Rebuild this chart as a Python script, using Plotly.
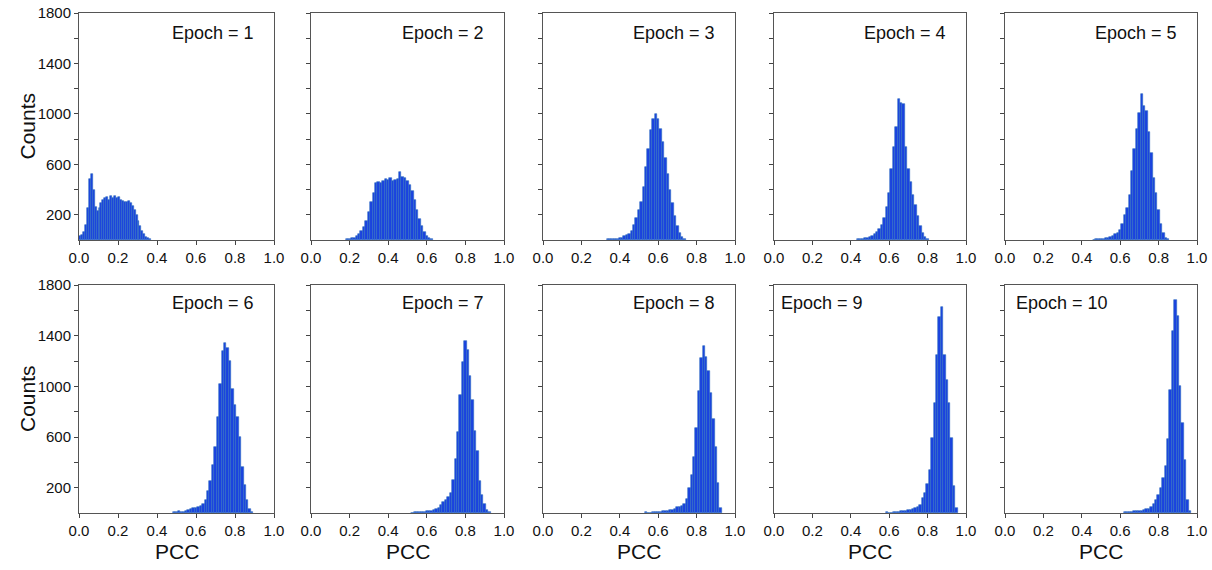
import plotly.graph_objects as go

# ---------------- data ----------------
epochs = [1, 2, 3, 4, 5, 6, 7, 8, 9, 10]
bin_width = [0.01, 0.0125, 0.0125, 0.0125, 0.0125, 0.0125, 0.0125, 0.0125, 0.0125, 0.0125]
first_center = [0.005, 0.1875, 0.3375, 0.4375, 0.4625, 0.4875, 0.525, 0.5375, 0.5875, 0.625]

counts_e1 = [30, 40, 60, 120, 250, 480, 520, 400, 260, 230, 250, 290, 320, 330, 340, 320, 345,
             335, 350, 330, 340, 320, 310, 305, 300, 310, 295, 270, 240, 200, 150, 110, 70, 45,
             25, 12, 6]
counts_e2 = [5, 8, 12, 18, 30, 45, 70, 105, 150, 220, 300, 370, 450, 460, 455, 470, 480, 475,
             490, 470, 475, 480, 540, 500, 490, 470, 440, 390, 320, 240, 170, 110, 60, 30, 12, 5]
counts_e3 = [5, 6, 6, 8, 10, 12, 18, 28, 38, 50, 75, 120, 175, 240, 300, 420, 580, 720, 870,
             960, 1000, 960, 880, 780, 650, 520, 400, 290, 190, 110, 55, 20, 6]
counts_e4 = [6, 8, 10, 12, 15, 22, 35, 45, 65, 90, 120, 175, 260, 370, 560, 740, 900, 1115,
             1085, 1080, 740, 560, 460, 360, 280, 190, 110, 55, 20, 8]
counts_e5 = [4, 5, 5, 6, 8, 12, 18, 25, 35, 45, 55, 80, 130, 200, 250, 360, 550, 720, 880,
             1010, 1160, 1060, 1020, 860, 690, 490, 370, 235, 130, 55, 15, 5]
counts_e6 = [6, 8, 12, 8, 10, 15, 20, 30, 38, 42, 45, 55, 75, 105, 170, 250, 380, 520, 760,
             1020, 1280, 1340, 1300, 1200, 980, 850, 760, 600, 360, 220, 100, 30, 8]
counts_e7 = [3, 5, 5, 7, 8, 10, 12, 14, 18, 22, 28, 40, 60, 85, 105, 130, 160, 260, 430, 640,
             930, 1190, 1360, 1285, 1080, 895, 645, 490, 250, 145, 75, 20, 6]
counts_e8 = [8, 3, 3, 5, 8, 8, 10, 13, 15, 18, 20, 24, 28, 45, 47, 55, 70, 110, 200, 300, 445,
             670, 960, 1220, 1320, 1230, 1120, 945, 740, 525, 240, 40]
counts_e9 = [6, 2, 3, 5, 6, 8, 12, 14, 14, 20, 26, 34, 40, 50, 60, 120, 160, 230, 340, 590,
             870, 1250, 1545, 1625, 1250, 1050, 870, 590, 215, 40]
counts_e10 = [5, 8, 8, 10, 13, 15, 16, 18, 21, 28, 32, 45, 70, 100, 140, 200, 276, 368, 584,
              973, 1433, 1678, 1552, 1000, 710, 420, 105, 13]
all_counts = [counts_e1, counts_e2, counts_e3, counts_e4, counts_e5,
              counts_e6, counts_e7, counts_e8, counts_e9, counts_e10]

x_tick_vals = [0.0, 0.2, 0.4, 0.6, 0.8, 1.0]
x_tick_text = ["0.0", "0.2", "0.4", "0.6", "0.8", "1.0"]
y_tick_vals = [200, 400, 600, 800, 1000, 1200, 1400, 1600, 1800]
y_tick_text = ["200", "", "600", "", "1000", "", "1400", "", "1800"]

# ---------------- layout geometry (pixels) ----------------
W, H = 1212, 570
col_px = [(79, 274), (311, 504), (543, 735), (774, 966), (1005, 1197)]
row_px = [(13, 240), (285, 513)]

FONT = "Liberation Sans, Arial, sans-serif"
fig = go.Figure()
annotations = []

for i, ep in enumerate(epochs):
    r, c = divmod(i, 5)
    n = i + 1
    xa = "x" if n == 1 else f"x{n}"
    ya = "y" if n == 1 else f"y{n}"
    w = bin_width[i]
    centers = [first_center[i] + k * w for k in range(len(all_counts[i]))]
    fig.add_trace(go.Bar(
        x=centers, y=all_counts[i], width=w,
        marker=dict(color="#1a42e0", line=dict(color="#2f6fc0", width=0.6)),
        xaxis=xa, yaxis=ya, showlegend=False,
    ))
    x0, x1 = col_px[c]
    y0, y1 = row_px[r]
    xdom = [x0 / W, x1 / W]
    ydom = [1 - y1 / H, 1 - y0 / H]
    xkey = "xaxis" if n == 1 else f"xaxis{n}"
    ykey = "yaxis" if n == 1 else f"yaxis{n}"
    fig.layout[xkey] = dict(
        domain=xdom, range=[0, 1], anchor=ya, automargin=False,
        tickvals=x_tick_vals, ticktext=x_tick_text,
        ticks="outside", ticklen=4, tickcolor="#444", tickwidth=1,
        showline=True, linecolor="#555", linewidth=1, mirror=True,
        showgrid=False, zeroline=False,
        tickfont=dict(family=FONT, size=15, color="#111"),
    )
    fig.layout[ykey] = dict(
        domain=ydom, range=[0, 1800], anchor=xa, automargin=False,
        tickvals=y_tick_vals, ticktext=y_tick_text,
        showticklabels=(c == 0),
        ticks="outside", ticklen=4, tickcolor="#444", tickwidth=1,
        showline=True, linecolor="#555", linewidth=1, mirror=True,
        showgrid=False, zeroline=False,
        tickfont=dict(family=FONT, size=15, color="#111"),
    )
    # epoch label
    if ep in (9, 10):
        ax_x = (x0 + (5 if ep == 9 else 9)) / W
        xanchor = "left"
    else:
        ax_x = (x1 - 18) / W
        xanchor = "right"
    ty = (33 if r == 0 else 303)
    annotations.append(dict(
        x=ax_x, y=1 - ty / H, xref="paper", yref="paper",
        text=f"Epoch = {ep}", showarrow=False, xanchor=xanchor, yanchor="middle",
        font=dict(family=FONT, size=18, color="#111"),
    ))
    if r == 1:
        annotations.append(dict(
            x=(x0 + x1) / 2 / W, y=1 - 551 / H, xref="paper", yref="paper",
            text="PCC", showarrow=False, xanchor="center", yanchor="middle",
            font=dict(family=FONT, size=21, color="#111"),
        ))

for (y0, y1) in row_px:
    annotations.append(dict(
        x=27 / W, y=1 - ((y0 + y1) / 2) / H, xref="paper", yref="paper",
        text="Counts", showarrow=False, textangle=-90,
        xanchor="center", yanchor="middle",
        font=dict(family=FONT, size=21, color="#111"),
    ))

fig.update_layout(
    width=W, height=H,
    margin=dict(l=0, r=0, t=0, b=0, autoexpand=False),
    paper_bgcolor="white", plot_bgcolor="white",
    bargap=0, annotations=annotations,
)

fig.write_html("out.html")
